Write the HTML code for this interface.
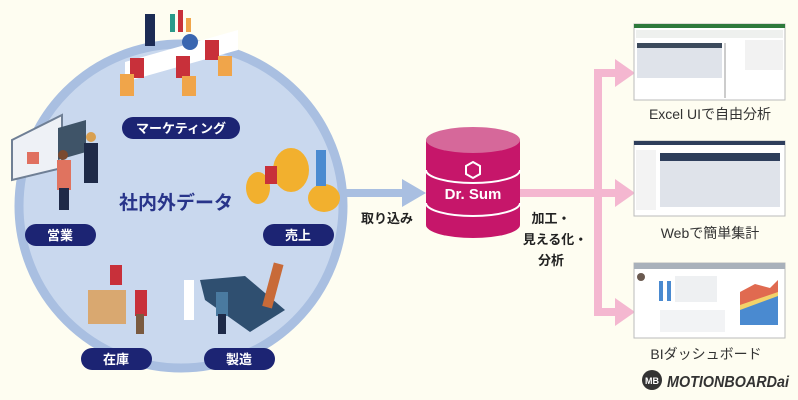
<!DOCTYPE html>
<html><head><meta charset="utf-8"><style>
html,body{margin:0;padding:0;background:#fefdf1;}
svg{display:block}
text{font-family:"Liberation Sans","Noto Sans CJK JP",sans-serif;}
</style></head><body>
<svg width="798" height="400" viewBox="0 0 798 400" xmlns="http://www.w3.org/2000/svg">
<rect width="798" height="400" fill="#fefdf1"/>
<circle cx="181" cy="206" r="162" fill="#c9d8ee" stroke="#a9bfe1" stroke-width="9"/>
<rect x="345" y="189" width="60" height="8" fill="#a9bfe1"/>
<polygon points="402,179 426,193 402,207" fill="#a9bfe1"/>
<g>
<polygon points="125,62 238,30 238,50 125,82" fill="#ffffff"/>
<rect x="170" y="14" width="5" height="18" fill="#2b9a8a"/><rect x="178" y="10" width="5" height="22" fill="#c8303a"/><rect x="186" y="18" width="5" height="14" fill="#f0a54a"/>
<circle cx="190" cy="42" r="8" fill="#3a66b0"/>
<rect x="130" y="58" width="14" height="20" fill="#c8303a"/><rect x="176" y="56" width="14" height="22" fill="#c8303a"/><rect x="205" y="40" width="14" height="20" fill="#c8303a"/>
<rect x="120" y="74" width="14" height="22" fill="#f0a54a"/><rect x="182" y="76" width="14" height="20" fill="#f0a54a"/><rect x="218" y="56" width="14" height="20" fill="#f0a54a"/>
<rect x="145" y="14" width="10" height="32" fill="#1c2b55"/>
</g>
<g>
<polygon points="12,140 62,115 62,168 12,180" fill="#eef1f6" stroke="#6f7f95" stroke-width="2"/>
<rect x="27" y="152" width="12" height="12" fill="#e07060"/>
<polygon points="58,128 86,120 86,152 58,160" fill="#3f5468"/>
<rect x="57" y="160" width="14" height="30" fill="#e0735f"/><rect x="59" y="188" width="10" height="22" fill="#1e2a48"/>
<rect x="84" y="143" width="14" height="40" fill="#1e2a48"/>
<circle cx="63" cy="155" r="5" fill="#7a4a30"/><circle cx="91" cy="137" r="5" fill="#d9a050"/>
</g>
<g>
<ellipse cx="258" cy="188" rx="12" ry="16" fill="#f2b02e"/>
<ellipse cx="291" cy="170" rx="18" ry="22" fill="#f2b02e"/>
<ellipse cx="324" cy="198" rx="16" ry="14" fill="#f2b02e"/>
<rect x="265" y="166" width="12" height="18" fill="#c8303a"/>
<rect x="316" y="150" width="10" height="36" fill="#4a8ad0"/>
</g>
<g>
<rect x="88" y="290" width="38" height="34" fill="#d9a870"/>
<rect x="110" y="265" width="12" height="20" fill="#c8303a"/>
<rect x="135" y="290" width="12" height="26" fill="#c8303a"/><rect x="136" y="314" width="8" height="20" fill="#7a5a40"/>
</g>
<g>
<polygon points="200,280 245,276 285,310 250,332 205,300" fill="#2f4f70"/>
<rect x="268" y="263" width="10" height="45" fill="#c86a38" transform="rotate(15 273 285)"/>
<rect x="184" y="280" width="10" height="40" fill="#ffffff"/>
<rect x="216" y="292" width="12" height="24" fill="#4a7aa0"/><rect x="218" y="314" width="8" height="20" fill="#1e2a48"/>
</g>
<g fill="#1c2473">
<rect x="122" y="117" width="118" height="22" rx="11"/>
<rect x="25" y="224" width="71" height="22" rx="11"/>
<rect x="263" y="224" width="71" height="22" rx="11"/>
<rect x="81" y="348" width="71" height="22" rx="11"/>
<rect x="204" y="348" width="71" height="22" rx="11"/>
</g>
<g fill="#ffffff" font-size="13" font-weight="bold" text-anchor="middle">
<text x="181" y="133">マーケティング</text>
<text x="60" y="240">営業</text>
<text x="298" y="240">売上</text>
<text x="116" y="364">在庫</text>
<text x="239" y="364">製造</text>
</g>
<text x="176" y="209" font-size="19" font-weight="bold" fill="#28348a" text-anchor="middle">社内外データ</text>
<text x="387" y="223" font-size="13" font-weight="bold" fill="#222" text-anchor="middle">取り込み</text>
<g fill="#f4b7d0">
<rect x="518" y="189" width="100" height="8"/>
<rect x="594" y="69" width="8" height="247"/>
<rect x="594" y="69" width="25" height="8"/>
<rect x="594" y="308" width="25" height="8"/>
<polygon points="615,59 635,73 615,87"/>
<polygon points="615,179 635,193 615,207"/>
<polygon points="615,298 635,312 615,326"/>
</g>
<path d="M426,140 L426,225 A47,13 0 0 0 520,225 L520,140 Z" fill="#c6166a"/>
<ellipse cx="473" cy="140" rx="47" ry="13" fill="#d6689a"/>
<path d="M426,170 A47,13 0 0 0 520,170" fill="none" stroke="#fff" stroke-width="2"/>
<path d="M426,203 A47,13 0 0 0 520,203" fill="none" stroke="#fff" stroke-width="2"/>
<polygon points="473,162 480,166 480,174 473,178 466,174 466,166" fill="none" stroke="#fff" stroke-width="2"/>
<text x="473" y="199" font-size="15" font-weight="bold" fill="#fff" text-anchor="middle">Dr. Sum</text>
<g font-size="13" font-weight="bold" fill="#222" text-anchor="middle">
<text x="551" y="223">加工・</text>
<text x="555" y="244">見える化・</text>
<text x="551" y="265">分析</text>
</g>
<g>
<rect x="634" y="24" width="151" height="76" fill="#fff" stroke="#bbb"/>
<rect x="634" y="24" width="151" height="4" fill="#2e7a3c"/>
<rect x="636" y="30" width="147" height="8" fill="#eef0ee"/>
<rect x="637" y="43" width="85" height="5" fill="#3c4a5c"/>
<rect x="637" y="48" width="85" height="30" fill="#dfe3ea"/>
<rect x="724" y="43" width="2" height="55" fill="#ccc"/>
<rect x="745" y="40" width="38" height="30" fill="#f2f2f2"/>
</g>
<g>
<rect x="634" y="141" width="151" height="75" fill="#fff" stroke="#bbb"/>
<rect x="634" y="141" width="151" height="4" fill="#2e3e5c"/>
<rect x="660" y="153" width="120" height="8" fill="#2e3e5c"/>
<rect x="660" y="161" width="120" height="46" fill="#dfe3ea"/>
<rect x="636" y="150" width="20" height="60" fill="#f3f3f3"/>
</g>
<g>
<rect x="634" y="263" width="151" height="75" fill="#fff" stroke="#bbb"/>
<rect x="634" y="263" width="151" height="6" fill="#a9b1bb"/>
<circle cx="641" cy="277" r="4" fill="#6a5a50"/>
<rect x="659" y="281" width="4" height="20" fill="#4a8ad0"/><rect x="667" y="281" width="4" height="20" fill="#4a8ad0"/>
<rect x="675" y="276" width="42" height="26" fill="#eef0f2"/>
<rect x="660" y="310" width="65" height="22" fill="#f2f3f5"/>
<polygon points="740,325 740,292 755,284 770,288 778,280 778,325" fill="#e06a50"/>
<polygon points="740,325 740,305 778,292 778,325" fill="#f2d26a"/>
<polygon points="740,325 740,310 778,296 778,325" fill="#4a8ad0"/>
</g>
<g font-size="14" fill="#333" text-anchor="middle">
<text x="710" y="119">Excel UIで自由分析</text>
<text x="710" y="238">Webで簡単集計</text>
<text x="706" y="359">BIダッシュボード</text>
</g>
<circle cx="652" cy="380" r="10" fill="#333"/>
<text x="652" y="384" font-size="9" font-weight="bold" fill="#fff" text-anchor="middle">MB</text>
<text x="667" y="387" font-size="16" font-weight="bold" font-style="italic" fill="#333" textLength="122" lengthAdjust="spacingAndGlyphs">MOTIONBOARDai</text>
</svg>
</body></html>
